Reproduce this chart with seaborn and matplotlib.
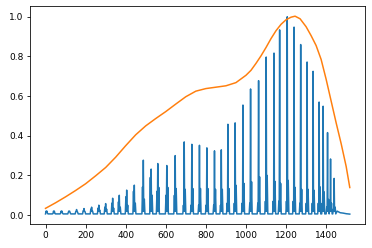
import matplotlib
matplotlib.use("Agg")
import matplotlib.pyplot as plt
import seaborn as sns
import pandas as pd

# ---- data ----
peak_x = [5, 42, 80, 118, 155, 192, 230, 266, 300, 335, 368, 405, 443,
          488, 527, 560, 605, 647, 692, 730, 768, 805, 843, 877,
          910, 946, 985, 1023, 1063, 1101, 1140, 1168, 1206, 1240,
          1273, 1305, 1335, 1365, 1385, 1407, 1422, 1440]
peak_y = [0.014, 0.013, 0.014, 0.020, 0.028, 0.033, 0.040, 0.050, 0.058, 0.085, 0.100, 0.126, 0.151,
          0.277, 0.232, 0.260, 0.250, 0.300, 0.369, 0.357, 0.352, 0.339, 0.324, 0.329,
          0.458, 0.465, 0.555, 0.636, 0.678, 0.797, 0.817, 0.934, 1.000, 0.948,
          0.860, 0.772, 0.725, 0.570, 0.549, 0.416, 0.283, 0.185]
pre_y = [0.010, 0.010, 0.011, 0.015, 0.018, 0.022, 0.030, 0.035, 0.040, 0.060, 0.067, 0.092, 0.120,
         0.142, 0.190, 0.120, 0.100, 0.100, 0.050, 0.050, 0.050, 0.050, 0.050, 0.050,
         0.060, 0.060, 0.060, 0.060, 0.060, 0.070, 0.070, 0.070, 0.070, 0.070,
         0.060, 0.060, 0.060, 0.060, 0.060, 0.040, 0.030, 0.030]
post_y = [0.008, 0.008, 0.009, 0.012, 0.015, 0.018, 0.020, 0.025, 0.030, 0.035, 0.040, 0.050, 0.060,
          0.080, 0.100, 0.140, 0.140, 0.134, 0.130, 0.134, 0.134, 0.134, 0.130, 0.130,
          0.134, 0.150, 0.160, 0.168, 0.193, 0.200, 0.170, 0.160, 0.175, 0.140,
          0.130, 0.130, 0.125, 0.142, 0.117, 0.079, 0.060, 0.040]
base_level = 0.006
low_level = 0.02
tail_x = [1455, 1470, 1485, 1500, 1518]
tail_y = [0.020, 0.012, 0.010, 0.007, 0.005]

orange_x = [0, 50, 100, 150, 200, 250, 300, 350, 400, 450, 500, 550, 600, 650, 700,
            750, 800, 850, 900, 950, 1000, 1025, 1050, 1075, 1100, 1125, 1150, 1175,
            1200, 1225, 1245, 1270, 1300, 1325, 1350, 1375, 1400, 1425, 1450, 1475,
            1500, 1518]
orange_y = [0.034, 0.062, 0.092, 0.124, 0.158, 0.198, 0.240, 0.292, 0.350, 0.405, 0.450,
            0.487, 0.522, 0.560, 0.597, 0.625, 0.638, 0.645, 0.652, 0.668, 0.705, 0.730,
            0.765, 0.803, 0.845, 0.890, 0.930, 0.962, 0.985, 0.998, 1.003, 0.990, 0.950,
            0.905, 0.855, 0.785, 0.685, 0.575, 0.465, 0.360, 0.245, 0.139]

# ---- build the blue polyline from the per-cycle readings ----
bx, by = [0], [base_level]
for p, h, a, b in zip(peak_x, peak_y, pre_y, post_y):
    bx += [p - 7, p - 4, p - 2, p, p + 2, p + 5, p + 8]
    by += [base_level, a, low_level, h, low_level, b, base_level]
bx += tail_x
by += tail_y
bx = [max(v, 0) for v in bx]

blue = pd.DataFrame({"x": bx, "y": by})
orange = pd.DataFrame({"x": orange_x, "y": orange_y})

W, H, DPI = 372, 248, 72
fig = plt.figure(figsize=(W / DPI, H / DPI), dpi=DPI)
ax = fig.add_axes([30.3 / W, (H - 224) / H, (365 - 30.3) / W, (224 - 6.3) / H])

sns.lineplot(data=blue, x="x", y="y", ax=ax, color="#1f77b4", linewidth=1.5,
             estimator=None, sort=False)
sns.lineplot(data=orange, x="x", y="y", ax=ax, color="#ff7f0e", linewidth=1.5,
             estimator=None, sort=False)

ax.set_xlabel("")
ax.set_ylabel("")
ax.set_xticks([0, 200, 400, 600, 800, 1000, 1200, 1400])
ax.set_yticks([0.0, 0.2, 0.4, 0.6, 0.8, 1.0])
ax.tick_params(labelsize=9)

fig.savefig("out.png", dpi=DPI)
